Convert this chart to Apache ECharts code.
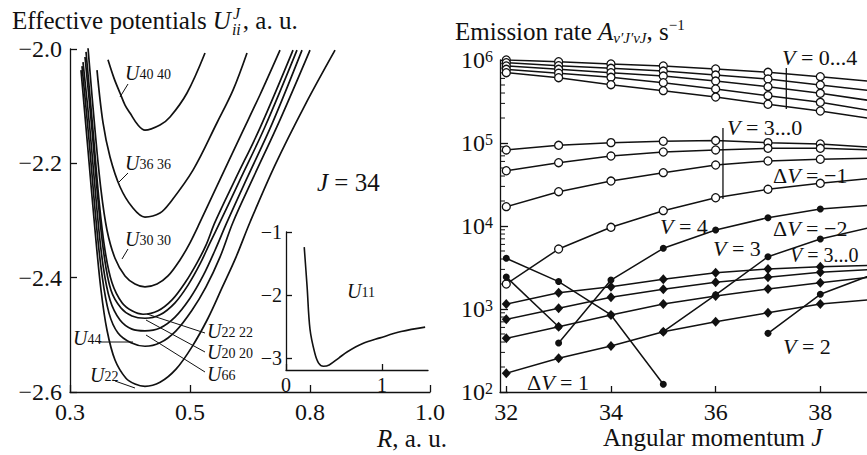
<!DOCTYPE html>
<html>
<head>
<meta charset="utf-8">
<script src="https://cdn.jsdelivr.net/npm/echarts@6/dist/echarts.min.js"></script>
<style>
  html, body { margin: 0; padding: 0; background: #fff; }
  #chart { width: 867px; height: 455px; }
</style>
</head>
<body>
<div id="chart"></div>
<script>
const SERIF = 'Liberation Serif';
const INK = '#111';

// ---------- Left panel: effective potentials U_ii^J (J = 34); points are [R, U] in a.u. ----------
const U4040 = [[0.3633,-2.019],[0.3733,-2.051],[0.3833,-2.077],[0.3917,-2.098],[0.4,-2.112],[0.4133,-2.133],[0.425,-2.142],[0.45,-2.133],[0.4667,-2.119],[0.495,-2.077],[0.525,-2.007]];
const U3636 = [[0.345,-2.037],[0.355,-2.129],[0.3667,-2.189],[0.3833,-2.241],[0.4033,-2.276],[0.425,-2.294],[0.45,-2.287],[0.4667,-2.269],[0.505,-2.212],[0.545,-2.129],[0.5717,-2.072],[0.595,-2.007]];
const U3030 = [[0.33,-1.998],[0.3417,-2.142],[0.3517,-2.247],[0.3617,-2.317],[0.375,-2.366],[0.3917,-2.397],[0.4083,-2.411],[0.425,-2.416],[0.445,-2.411],[0.4633,-2.397],[0.4833,-2.369],[0.5,-2.339],[0.5167,-2.303],[0.5417,-2.247],[0.5833,-2.154],[0.6167,-2.080],[0.65,-2.002]];
const U2222 = [[0.3267,-2.005],[0.3383,-2.142],[0.3483,-2.264],[0.3583,-2.352],[0.37,-2.409],[0.3867,-2.444],[0.4033,-2.458],[0.4217,-2.464],[0.4467,-2.458],[0.47,-2.439],[0.4917,-2.409],[0.5117,-2.374],[0.5267,-2.343],[0.5417,-2.303],[0.575,-2.229],[0.6167,-2.138],[0.6717,-2.002]];
const U2020 = [[0.325,-2.014],[0.3367,-2.142],[0.3467,-2.264],[0.3567,-2.360],[0.3683,-2.422],[0.385,-2.453],[0.4033,-2.467],[0.425,-2.471],[0.45,-2.465],[0.475,-2.444],[0.4967,-2.413],[0.5167,-2.376],[0.5333,-2.339],[0.55,-2.303],[0.5833,-2.229],[0.625,-2.136],[0.6783,-2.002]];
const U66 = [[0.3217,-2.023],[0.3333,-2.142],[0.345,-2.282],[0.355,-2.378],[0.3667,-2.439],[0.3833,-2.474],[0.4033,-2.490],[0.425,-2.493],[0.45,-2.488],[0.475,-2.469],[0.5,-2.436],[0.5217,-2.397],[0.5417,-2.352],[0.5617,-2.303],[0.595,-2.226],[0.6367,-2.131],[0.6867,-2.002]];
const U44 = [[0.32,-2.030],[0.3317,-2.159],[0.3433,-2.299],[0.3533,-2.395],[0.365,-2.462],[0.38,-2.497],[0.4017,-2.514],[0.425,-2.520],[0.45,-2.514],[0.4767,-2.493],[0.5033,-2.457],[0.5267,-2.416],[0.55,-2.364],[0.5717,-2.303],[0.605,-2.226],[0.65,-2.124],[0.7,-2.002]];
const U22 = [[0.3183,-2.037],[0.33,-2.177],[0.3417,-2.317],[0.3517,-2.422],[0.3617,-2.492],[0.375,-2.544],[0.3933,-2.576],[0.4083,-2.586],[0.425,-2.590],[0.45,-2.583],[0.4767,-2.560],[0.5033,-2.521],[0.53,-2.471],[0.5533,-2.418],[0.5767,-2.364],[0.6,-2.303],[0.6417,-2.203],[0.6917,-2.098],[0.7417,-2.002]];
const POTENTIALS = [U4040, U3636, U3030, U2222, U2020, U66, U44, U22];
const POTENTIAL_NAMES = ['U40 40', 'U36 36', 'U30 30', 'U22 22', 'U20 20', 'U66', 'U44', 'U22'];
const R_TICK_LABELS = ['0.3', '0.5', '0.8', '1.0'];

// Inset: ground channel U11
const U11 = [[0.19,-1.24],[0.22,-1.87],[0.25,-2.54],[0.30,-2.92],[0.34,-3.08],[0.39,-3.13],[0.45,-3.11],[0.55,-3.0],[0.64,-2.9],[0.8,-2.77],[0.98,-2.68],[1.2,-2.58],[1.45,-2.51]];

// ---------- Right panel: emission rates (s^-1) versus angular momentum J ----------
const J_VALUES = [32, 33, 34, 35, 36, 37, 38, 39];
// V = 0...4 (open circles)
const RATE_V0 = [1.0e6, 9.55e5, 8.95e5, 8.47e5, 7.80e5, 7.11e5, 6.30e5, 5.51e5];
const RATE_V1 = [9.27e5, 8.53e5, 7.94e5, 7.36e5, 6.59e5, 5.90e5, 5.00e5, 4.24e5];
const RATE_V2 = [8.47e5, 7.73e5, 7.03e5, 6.41e5, 5.58e5, 4.77e5, 3.97e5, 3.21e5];
const RATE_V3 = [7.73e5, 6.92e5, 6.19e5, 5.33e5, 4.48e5, 3.72e5, 3.09e5, 2.43e5];
const RATE_V4 = [7.03e5, 6.12e5, 5.04e5, 4.27e5, 3.58e5, 2.93e5, 2.43e5, 1.95e5];
// dV = -1, V = 3...0 (open circles)
const RATE_M1_V3 = [8.24e4, 9.38e4, 1.01e5, 1.05e5, 1.07e5, 1.01e5, 9.73e4, 8.83e4];
const RATE_M1_V2 = [4.63e4, 5.79e4, 6.97e4, 7.79e4, 8.24e4, 8.63e4, 8.63e4, 8.24e4];
const RATE_M1_V1 = [1.71e4, 2.59e4, 3.48e4, 4.39e4, 5.43e4, 6.07e4, 6.37e4, 6.59e4];
const RATE_M1_V0 = [2.0e3, 5.28e3, 9.65e3, 1.53e4, 2.19e4, 2.77e4, 3.27e4, 3.78e4];
// dV = -2 (filled circles)
const RATE_M2_FALL = [4080, 2140, 847, 124, null, null, null, null];
const RATE_M2_SHORT = [2430, 612, null, null, null, null, null, null];
const RATE_M2_V4 = [null, 389, 2234, 5383, 8954, 1.26e4, 1.60e4, 1.79e4];
const RATE_M2_V3 = [null, null, null, 533, 1480, 4266, 6966, 9730];
const RATE_M2_V2 = [null, null, null, null, null, 509, 1503, 2606];
// dV = 1, V = 3...0 (diamonds)
const RATE_P1_V3 = [1148, 1570, 1857, 2280, 2737, 3033, 3236, 3345];
const RATE_P1_V2 = [752, 1019, 1383, 1726, 2097, 2411, 2768, 2992];
const RATE_P1_V1 = [443, 612, 847, 1148, 1435, 1742, 2075, 2432];
const RATE_P1_V0 = [168, 255, 358, 533, 704, 902, 1148, 1300];
// group brackets: [J, upper rate, lower rate]
const BRACKET_V04 = [37.35, 8.0e5, 2.57e5];
const BRACKET_V30 = [36.14, 1.52e5, 2.11e4];
const LOG_MINOR_TICKS = [2,3,4,5,6,7,8,9].flatMap(k => [1e2, 1e3, 1e4, 1e5].map(d => k * d));
const J_MIN = 31.88, J_MAX = 40;

const MINUS = '\u2212';

function pairs(vals) {
  return J_VALUES.map((j, i) => [j, vals[i] == null ? '-' : vals[i]]);
}

const lineBase = { type: 'line', animation: false, lineStyle: { color: INK, width: 1.5 } };
const OPEN = { symbol: 'circle', symbolSize: 8, itemStyle: { color: '#fff', borderColor: INK, borderWidth: 1.3 } };
const FILLED = { symbol: 'circle', symbolSize: 7, itemStyle: { color: INK, borderColor: INK, borderWidth: 0 } };
const DIAMOND = { symbol: 'diamond', symbolSize: [9, 10], itemStyle: { color: INK, borderColor: INK, borderWidth: 0 } };

function rateSeries(name, vals, mark) {
  return Object.assign({}, lineBase, mark, {
    name, xAxisIndex: 2, yAxisIndex: 2, data: pairs(vals), showSymbol: true, z: 3
  });
}

const series = [];
POTENTIALS.forEach((d, k) => {
  series.push(Object.assign({}, lineBase, {
    name: POTENTIAL_NAMES[k], xAxisIndex: 0, yAxisIndex: 0, data: d,
    showSymbol: false, smooth: 0.35, lineStyle: { color: INK, width: 1.7 }
  }));
});
series.push(Object.assign({}, lineBase, {
  name: 'U11', xAxisIndex: 1, yAxisIndex: 1, data: U11,
  showSymbol: false, smooth: 0.35, lineStyle: { color: INK, width: 1.6 }
}));

[['V0', RATE_V0], ['V1', RATE_V1], ['V2', RATE_V2], ['V3', RATE_V3], ['V4', RATE_V4],
 ['m1 V3', RATE_M1_V3], ['m1 V2', RATE_M1_V2], ['m1 V1', RATE_M1_V1], ['m1 V0', RATE_M1_V0]]
  .forEach(([n, v]) => series.push(rateSeries(n, v, OPEN)));
[['p1 V3', RATE_P1_V3], ['p1 V2', RATE_P1_V2], ['p1 V1', RATE_P1_V1], ['p1 V0', RATE_P1_V0]]
  .forEach(([n, v]) => series.push(rateSeries(n, v, DIAMOND)));
[['m2 fall', RATE_M2_FALL], ['m2 short', RATE_M2_SHORT], ['m2 V4', RATE_M2_V4], ['m2 V3', RATE_M2_V3], ['m2 V2', RATE_M2_V2]]
  .forEach(([n, v]) => series.push(rateSeries(n, v, FILLED)));

[BRACKET_V04, BRACKET_V30].forEach(b => {
  series.push(Object.assign({}, lineBase, {
    xAxisIndex: 2, yAxisIndex: 2, showSymbol: false, lineStyle: { color: INK, width: 1.3 },
    data: [[b[0], b[1]], [b[0], b[2]]]
  }));
});

// minor ticks of the logarithmic axis (2..9 within each decade)
series.push({
  type: 'custom', xAxisIndex: 2, yAxisIndex: 2, silent: true, clip: false, animation: false,
  data: LOG_MINOR_TICKS.map(v => [J_MIN, v]),
  renderItem: (params, api) => {
    const c = api.coord([api.value(0), api.value(1)]);
    return { type: 'line', shape: { x1: c[0], y1: c[1], x2: c[0] + 5, y2: c[1] },
             style: { stroke: INK, lineWidth: 1 } };
  }
});

const axisLineStyle = { show: true, onZero: false, lineStyle: { color: INK, width: 1.3 } };
const tickIn = (len) => ({ show: true, inside: true, length: len, lineStyle: { color: INK, width: 1.3 } });
const labelFont = (size) => ({ color: INK, fontFamily: SERIF, fontSize: size });

const RICH_POW = {
  b: { fontFamily: SERIF, fontSize: 24, color: INK, lineHeight: 24, verticalAlign: 'bottom', padding: [6, 0, 0, 0] },
  e: { fontFamily: SERIF, fontSize: 16, color: INK, lineHeight: 22, verticalAlign: 'top' }
};

const option = {
  animation: false,
  backgroundColor: '#fff',
  grid: [
    { left: 70, top: 49, width: 360, height: 343, containLabel: false, outerBoundsMode: 'none' },
    { left: 286, top: 232, width: 142, height: 138, containLabel: false, outerBoundsMode: 'none' },
    { left: 500, top: 60, width: 425, height: 332, containLabel: false, outerBoundsMode: 'none' }
  ],
  xAxis: [
    { gridIndex: 0, type: 'value', min: 0.3, max: 0.9, interval: 0.2,
      axisLine: axisLineStyle, axisTick: tickIn(7), splitLine: { show: false },
      axisLabel: Object.assign(labelFont(24), { margin: 8,
        formatter: v => R_TICK_LABELS[Math.round((v - 0.3) / 0.2)] || '' }) },
    { gridIndex: 1, type: 'value', min: 0, max: 1.48, interval: 1,
      axisLine: axisLineStyle, axisTick: tickIn(6), splitLine: { show: false },
      axisLabel: Object.assign(labelFont(20), { margin: 5, showMaxLabel: false }) },
    { gridIndex: 2, type: 'value', min: J_MIN, max: J_MAX, splitNumber: 4, minInterval: 2, maxInterval: 2,
      axisLine: axisLineStyle, axisTick: tickIn(6), splitLine: { show: false },
      axisLabel: Object.assign(labelFont(24), { margin: 8, showMinLabel: false, showMaxLabel: false,
        formatter: v => (Math.abs(v - Math.round(v)) < 1e-6 && v < 39 ? String(Math.round(v)) : '') }) }
  ],
  yAxis: [
    { gridIndex: 0, type: 'value', min: -2.6, max: -2.0, interval: 0.2,
      axisLine: axisLineStyle, axisTick: tickIn(7), splitLine: { show: false },
      axisLabel: Object.assign(labelFont(24), { margin: 8,
        formatter: v => MINUS + Math.abs(v).toFixed(1) }) },
    { gridIndex: 1, type: 'value', min: -3.19, max: -1, splitNumber: 2, minInterval: 1, maxInterval: 1,
      axisLine: axisLineStyle, axisTick: tickIn(6), splitLine: { show: false },
      axisLabel: Object.assign(labelFont(20), { margin: 4, showMinLabel: false,
        formatter: v => (Math.abs(v - Math.round(v)) < 1e-6 ? MINUS + Math.abs(Math.round(v)) : '') }) },
    { gridIndex: 2, type: 'log', logBase: 10, min: 100, max: 1e6,
      axisLine: axisLineStyle, axisTick: tickIn(8), splitLine: { show: false },
      axisLabel: { margin: 7, rich: RICH_POW,
        formatter: v => '{b|10}{e|' + Math.round(Math.log10(v)) + '}' } }
  ],
  series,
  graphic: []
};

// ---------- text annotations ----------
const measureCtx = document.createElement('canvas').getContext('2d');
function textWidth(str, size, italic) {
  measureCtx.font = (italic ? 'italic ' : '') + size + 'px "' + SERIF + '"';
  return measureCtx.measureText(str).width;
}
function plain(str, x, y, size, opts) {
  return Object.assign({ type: 'text', x, y, z: 100, silent: true,
    style: { text: str, fill: INK, font: (opts && opts.italic ? 'italic ' : '') + size + 'px "' + SERIF + '"',
             align: (opts && opts.align) || 'left', verticalAlign: 'middle' } });
}
const RICH_TXT = {
  n: { fontFamily: SERIF, fontSize: 25, fill: INK, lineHeight: 28 },
  i: { fontFamily: SERIF, fontSize: 25, fill: INK, fontStyle: 'italic', lineHeight: 28 },
  ni: { fontFamily: SERIF, fontSize: 22, fill: INK, lineHeight: 24 },
  ii: { fontFamily: SERIF, fontSize: 22, fill: INK, fontStyle: 'italic', lineHeight: 24 },
  nr: { fontFamily: SERIF, fontSize: 20, fill: INK, lineHeight: 22 },
  ir: { fontFamily: SERIF, fontSize: 20, fill: INK, fontStyle: 'italic', lineHeight: 22 },
  ui: { fontFamily: SERIF, fontSize: 20, fill: INK, fontStyle: 'italic', lineHeight: 17 },
  sub: { fontFamily: SERIF, fontSize: 14, fill: INK, lineHeight: 12, verticalAlign: 'bottom' },
  subi: { fontFamily: SERIF, fontSize: 15, fill: INK, fontStyle: 'italic', lineHeight: 17, verticalAlign: 'bottom' },
  sup: { fontFamily: SERIF, fontSize: 15, fill: INK, lineHeight: 18, verticalAlign: 'top' }
};
function rich(str, x, y, align) {
  return { type: 'text', x, y, z: 100, silent: true,
    style: { text: str, rich: RICH_TXT, fill: INK, font: '24px "' + SERIF + '"',
             align: align || 'left', verticalAlign: 'middle' } };
}
function leader(x1, y1, x2, y2) {
  return { type: 'line', z: 100, silent: true, shape: { x1, y1, x2, y2 }, style: { stroke: INK, lineWidth: 1 } };
}

const G = option.graphic;

// left title: Effective potentials U^J_ii, a. u.
(function () {
  const x0 = 12, yc = 20, size = 25;
  const w1 = textWidth('Effective potentials ', size, false);
  const wU = textWidth('U', size, true);
  G.push(plain('Effective potentials ', x0, yc, size));
  G.push(plain('U', x0 + w1, yc, size, { italic: true }));
  const xs = x0 + w1 + wU + 1;
  G.push(plain('J', xs + 1, yc - 7, 16, { italic: true }));
  G.push(plain('ii', xs, yc + 9, 16, { italic: true }));
  G.push(plain(', a. u.', xs + textWidth('ii', 16, true) + 2, yc, size));
})();

// curve labels with leader lines
[['40 40', 125, 73, [128, 84, 120, 97]],
 ['36 36', 125, 163, [128, 173, 118, 183]],
 ['30 30', 125, 239, [128, 249, 122, 259]],
 ['22 22', 207, 331, [205, 333, 147, 314]],
 ['20 20', 207, 352, [205, 352, 146, 320]],
 ['66', 207, 374, [205, 372, 146, 335]],
 ['44', 73, 338, [98, 342, 133, 342]],
 ['22', 90, 375, [115, 381, 135, 388]]
].forEach(([sub, x, y, l]) => {
  G.push(rich('{ui|U}{sub|' + sub + '}', x, y));
  G.push(leader(l[0], l[1], l[2], l[3]));
});

G.push(rich('{i|J}{n| = 34}', 317, 182));
G.push(rich('{ui|U}{sub|11}', 347, 291));
G.push(rich('{i|R}{n|, a. u.}', 447, 438, 'right'));

// right title and axis name
G.push(rich('{n|Emission rate }{i|A}{subi|v\u2032J\u2032vJ}{n|, s}{sup|' + MINUS + '1}', 455, 31));
G.push(rich('{n|Angular momentum }{i|J}', 603, 437));

// group labels on the right
[['{ii|V}{ni| = 0...4}', 782, 57],
 ['{ii|V}{ni| = 3...0}', 727, 127],
 ['{ni|\u0394}{ii|V}{ni| = ' + MINUS + '1}', 773, 175],
 ['{ii|V}{ni| = 4}', 660, 226],
 ['{ni|\u0394}{ii|V}{ni| = ' + MINUS + '2}', 773, 228],
 ['{ii|V}{ni| = 3}', 713, 248],
 ['{ir|V}{nr| = 3...0}', 790, 255],
 ['{ii|V}{ni| = 2}', 783, 346],
 ['{ni|\u0394}{ii|V}{ni| = 1}', 527, 382]
].forEach(([s, x, y]) => G.push(rich(s, x, y)));

const chart = echarts.init(document.getElementById('chart'), null, { renderer: 'svg' });
chart.setOption(option);
</script>
</body>
</html>
